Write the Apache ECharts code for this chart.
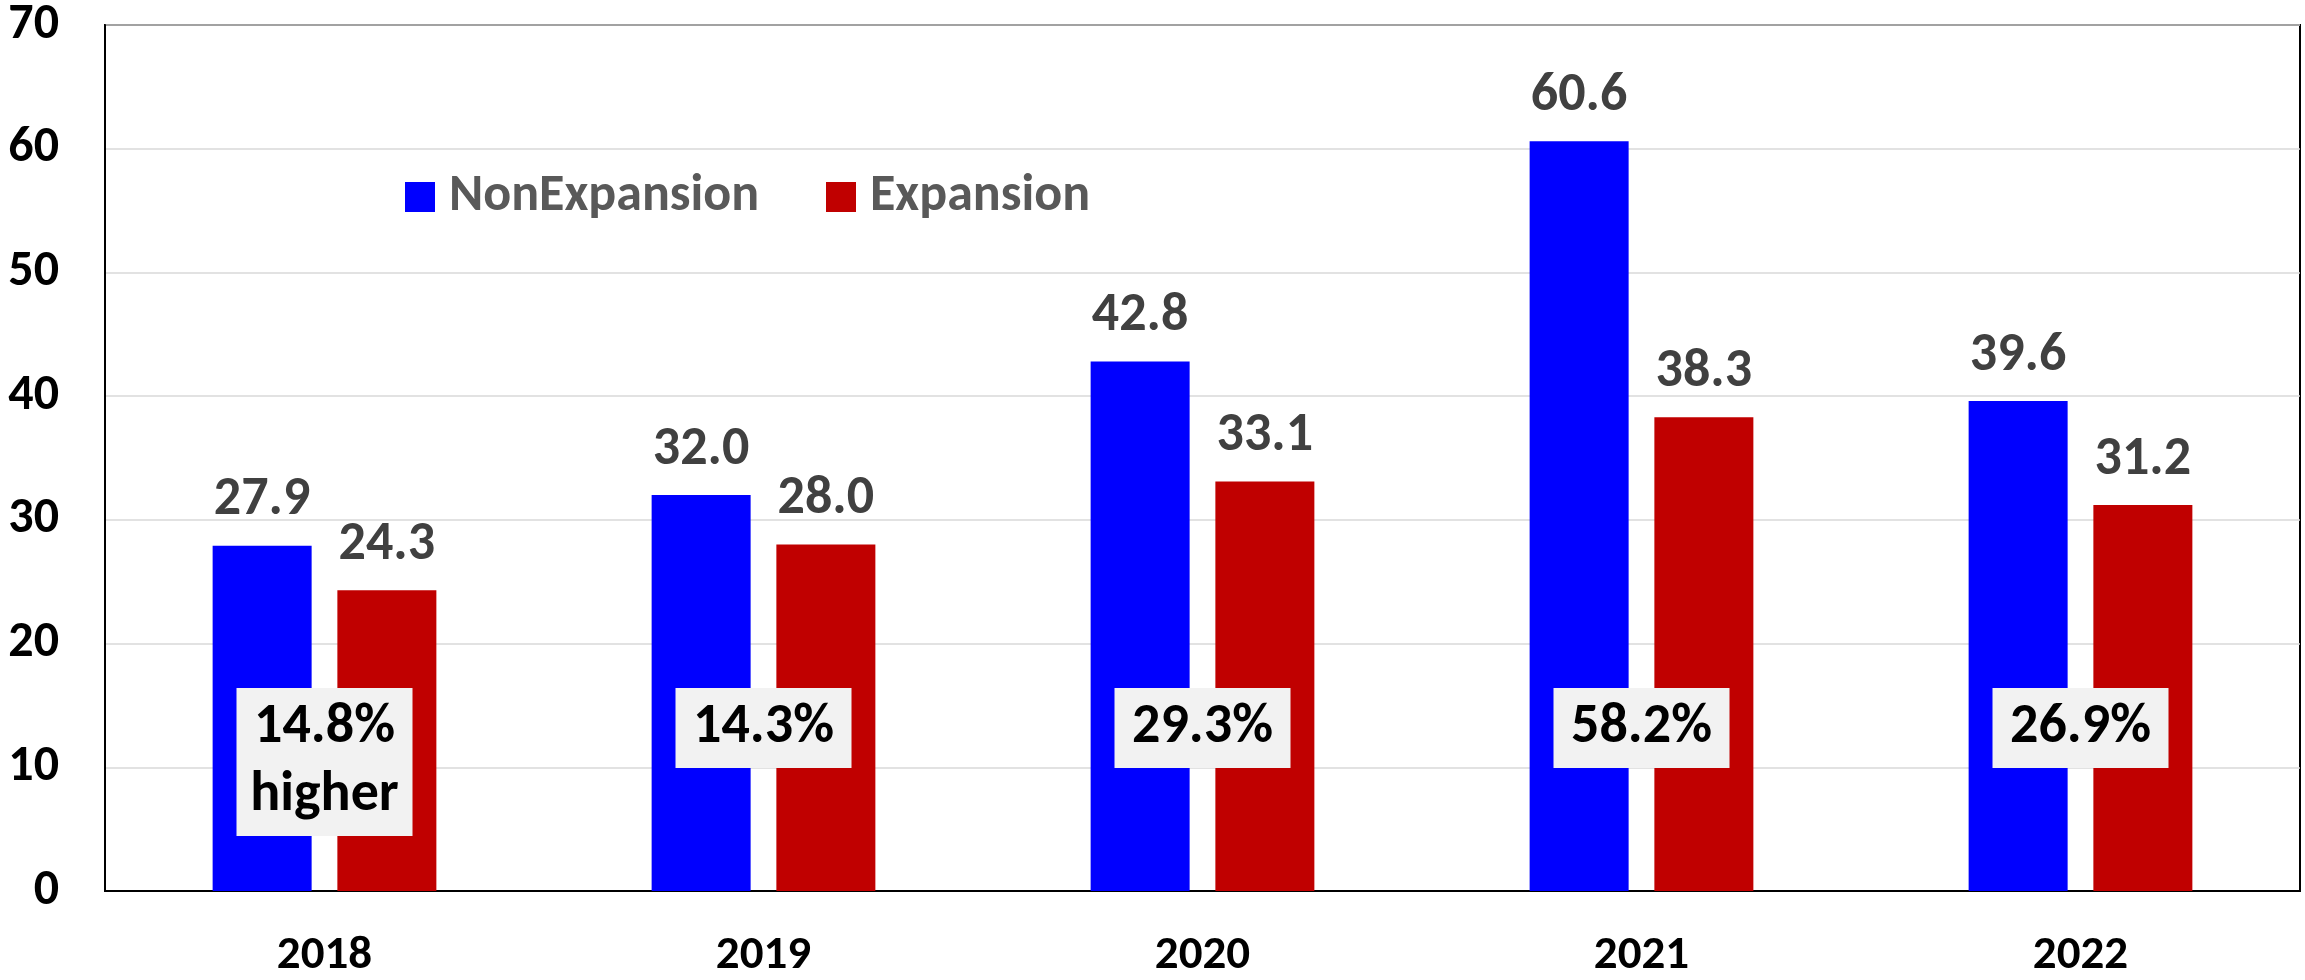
<!DOCTYPE html>
<html>
<head>
<meta charset="utf-8">
<script src="https://cdn.jsdelivr.net/npm/echarts@6/dist/echarts.min.js"></script>
<style>
  html, body { margin: 0; padding: 0; background: #fff; }
  #chart { width: 2305px; height: 980px; }
</style>
</head>
<body>
<div id="chart"></div>
<script>
// Years on the category axis
const years = ['2018', '2019', '2020', '2021', '2022'];
// Series values
const nonExpansion = [27.9, 32.0, 42.8, 60.6, 39.6];
const expansion = [24.3, 28.0, 33.1, 38.3, 31.2];
// Value axis ticks
const yTicks = [0, 10, 20, 30, 40, 50, 60, 70];

const FONT = "Carlito, Lato, 'Open Sans', sans-serif";

// Percent by which NonExpansion exceeds Expansion, per year
const gapLabels = years.map((y, i) => {
  const pct = ((nonExpansion[i] / expansion[i] - 1) * 100).toFixed(1) + '%';
  return i === 0 ? pct + '\nhigher' : pct;
});

// Annotation boxes hang from this level of the value axis
const boxTop = 16.4;

const legendText = {
  fontFamily: FONT, fontSize: 52, lineHeight: 52, fontWeight: 'bold',
  color: '#595959', padding: [0, 0, 0, 9]
};
const valueLabel = {
  show: true, position: 'top', distance: 18,
  formatter: p => p.value.toFixed(1),
  fontFamily: FONT, fontSize: 54, fontWeight: 'bold', color: '#404040'
};

const chart = echarts.init(document.getElementById('chart'));
chart.setOption({
  backgroundColor: '#ffffff',
  animation: false,
  grid: {
    left: 105, right: 5, top: 24, bottom: 84.5,
    show: true, borderColor: '#000000', borderWidth: 2, backgroundColor: 'transparent'
  },
  legend: [
    {
      left: 400, top: 166, itemWidth: 30, itemHeight: 30, icon: 'rect',
      data: ['NonExpansion'], textStyle: legendText
    },
    {
      left: 821, top: 166, itemWidth: 30, itemHeight: 30, icon: 'rect',
      data: ['Expansion'], textStyle: legendText
    }
  ],
  xAxis: {
    type: 'category',
    data: years,
    axisTick: { show: false },
    axisLine: { lineStyle: { color: '#000000', width: 2 } },
    axisLabel: { fontFamily: FONT, fontSize: 47, fontWeight: 'bold', color: '#000000', margin: 42 }
  },
  yAxis: {
    type: 'value',
    min: yTicks[0], max: yTicks[yTicks.length - 1], interval: 10,
    axisLine: { show: true, lineStyle: { color: '#000000', width: 2 } },
    axisTick: { show: false },
    splitLine: { lineStyle: { color: '#d9d9d9', width: 1.5 } },
    axisLabel: { fontFamily: FONT, fontSize: 50, fontWeight: 'bold', color: '#000000', margin: 46 }
  },
  series: [
    {
      name: 'NonExpansion', type: 'bar', data: nonExpansion,
      barWidth: 99, barGap: '26%',
      itemStyle: { color: '#0000ff' },
      label: valueLabel
    },
    {
      name: 'Expansion', type: 'bar', data: expansion,
      barWidth: 99,
      itemStyle: { color: '#c00000' },
      label: valueLabel
    },
    {
      name: 'gap', type: 'scatter', symbolSize: 0, silent: true, z: 10,
      itemStyle: { opacity: 1 },
      data: years.map((y, i) => ({ value: [y, boxTop], gap: gapLabels[i] })),
      label: {
        show: true, position: 'bottom', distance: 0,
        formatter: p => p.data.gap,
        fontFamily: FONT, fontSize: 56, fontWeight: 'bold', color: '#000000',
        lineHeight: 68, width: 134, align: 'center',
        backgroundColor: '#f2f2f2', padding: [6, 21, 6, 21]
      }
    }
  ]
});
</script>
</body>
</html>
